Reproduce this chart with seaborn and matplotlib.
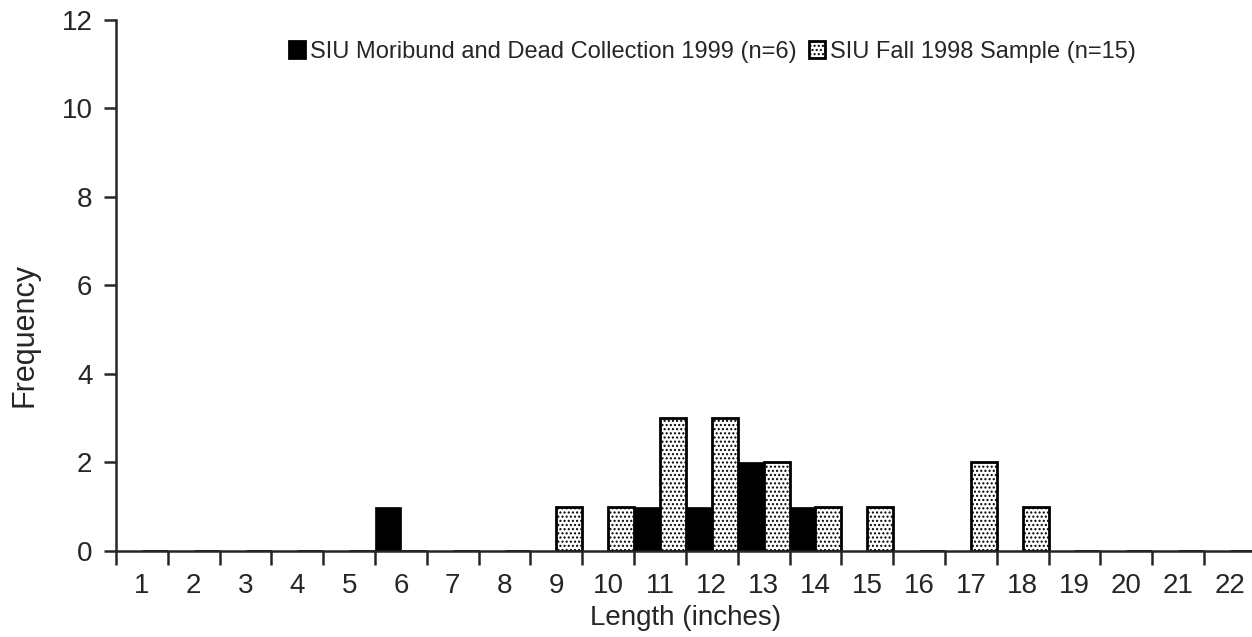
import pandas as pd
import matplotlib
matplotlib.use('Agg')
import matplotlib.pyplot as plt
import seaborn as sns

lengths = list(range(1, 23))
moribund = [0, 0, 0, 0, 0, 1, 0, 0, 0, 0, 1, 1, 2, 1, 0, 0, 0, 0, 0, 0, 0, 0]
fall_1998 = [0, 0, 0, 0, 0, 0, 0, 0, 1, 1, 3, 3, 2, 1, 1, 0, 2, 1, 0, 0, 0, 0]
series_names = ['SIU Moribund and Dead Collection 1999 (n=6)', 'SIU Fall 1998 Sample (n=15)']
y_ticks = [0, 2, 4, 6, 8, 10, 12]

def main():
	sns.set_style('white')
	plt.rcParams['font.family'] = ['Liberation Sans', 'DejaVu Sans']

	df = pd.DataFrame({
		'length': lengths * 2,
		'count': moribund + fall_1998,
		'series': [series_names[0]] * len(lengths) + [series_names[1]] * len(lengths),
	})

	fig = plt.figure(figsize=(12.52, 6.37), dpi=100)
	# axes runs a little past the right edge, like the scanned original
	ax = fig.add_axes([0.0927, 0.135, 0.9103, 0.834])

	sns.barplot(x='length', y='count', hue='series', data=df, ax=ax,
		palette=['black', 'white'], width=1.0, saturation=1,
		edgecolor='black', linewidth=2)

	# dotted fill for the 1998 sample
	for bar in ax.containers[1]:
		bar.set_hatch('....')
		bar.set_edgecolor('black')
	for bar in ax.containers[0]:
		bar.set_linewidth(0.5)

	ax.set_ylim(0, 12)
	ax.set_yticks(y_ticks)
	ax.set_xlim(-0.5, len(lengths) - 0.5)
	# ticks sit on category boundaries, labels in the middle
	ax.set_xticks([i - 0.5 for i in range(len(lengths) + 1)])
	ax.set_xticklabels([])
	ax.set_xticks(range(len(lengths)), minor=True)
	ax.set_xticklabels([str(v) for v in lengths], minor=True)
	ax.tick_params(axis='x', which='minor', length=0, labelsize=20, pad=15.5)
	ax.tick_params(axis='x', which='major', direction='out', length=10, width=1.8, bottom=True)
	ax.tick_params(axis='y', direction='out', length=9, width=1.8, labelsize=20, pad=8, left=True)

	sns.despine(ax=ax)
	ax.spines['left'].set_linewidth(1.8)
	ax.spines['bottom'].set_linewidth(1.8)

	ax.set_xlabel('Length (inches)', fontsize=20)
	ax.xaxis.set_label_coords(0.5, -0.102)
	ax.set_ylabel('Frequency', fontsize=22)
	ax.yaxis.set_label_coords(-0.067, 0.407)

	handles, labels = ax.get_legend_handles_labels()
	leg = ax.legend(handles, labels, loc='center left', bbox_to_anchor=(0.133, 0.94),
		ncol=2, frameon=False, fontsize=17, handlelength=0.7, handleheight=0.7,
		handletextpad=0.2, columnspacing=0.5)
	leg.legend_handles[1].set_hatch('....')
	leg.legend_handles[1].set_edgecolor('black')

	plt.savefig('out.png', dpi=100)

main()
